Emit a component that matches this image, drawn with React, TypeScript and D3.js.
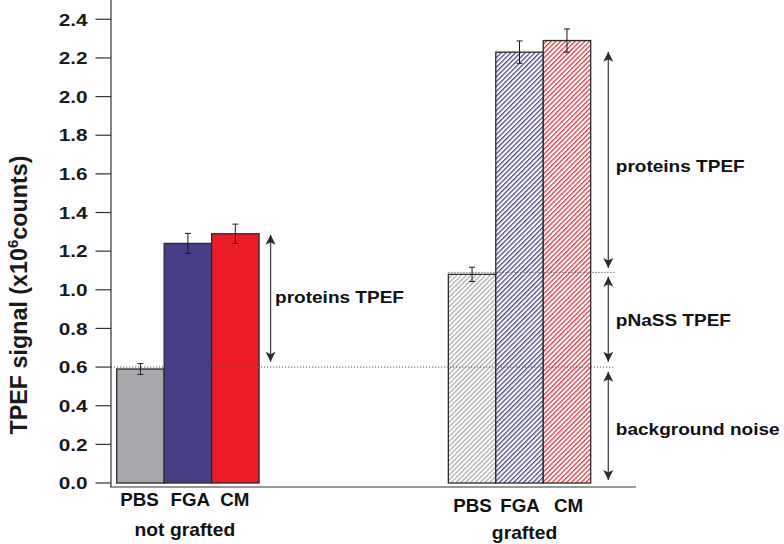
import React from "react";
import * as d3 from "d3";

const groups = ["not grafted", "grafted"];
const categories = ["PBS", "FGA", "CM"];
const notGraftedValues = [0.59, 1.24, 1.29];
const notGraftedErrors = [0.028, 0.052, 0.05];
const graftedValues = [1.08, 2.23, 2.29];
const graftedErrors = [0.037, 0.058, 0.06];
const yTicks = [0.0, 0.2, 0.4, 0.6, 0.8, 1.0, 1.2, 1.4, 1.6, 1.8, 2.0, 2.2, 2.4];
const refLevels = [0.6, 1.09];
// annotation arrows
const arrowLabels = ["proteins TPEF", "proteins TPEF", "pNaSS TPEF", "background noise"];
const arrowGroup = ["not grafted", "grafted", "grafted", "grafted"];
const arrowFrom = [1.285, 2.232, 1.068, 0.576];
const arrowTo = [0.628, 1.113, 0.628, 0.016];
const arrowLabelValue = [0.93, 1.61, 0.813, 0.249];

const W = 784;
const H = 544;
const FONT = "'Liberation Sans', Arial, Helvetica, sans-serif";
const solidColors = ["#a7a9ac", "#463f86", "#ec1c27"];
const hatchColors = ["#a9a9ab", "#474287", "#e2323b"];
const SX = 1.06;

export default function App() {
  const y = d3.scaleLinear().domain([0, 2.4]).range([483, 19.3]);
  const xg = d3
    .scaleBand<string>()
    .domain(groups)
    .range([116.7, 590.7])
    .paddingInner(0.5707)
    .paddingOuter(0);
  const xc = d3.scaleBand<string>().domain(categories).range([0, xg.bandwidth()]).padding(0);
  const bw = xc.bandwidth();

  const data = groups
    .map((g, gi) =>
      categories.map((c, ci) => ({
        g,
        gi,
        c,
        ci,
        v: gi === 0 ? notGraftedValues[ci] : graftedValues[ci],
        e: gi === 0 ? notGraftedErrors[ci] : graftedErrors[ci],
      }))
    )
    .flat();

  const axisX = 111;
  const axisY = 487;
  const arrowOffset = [11.5, 17.6, 17.6, 17.6];
  const labelOffset = [4.5, 7.5, 7.5, 7.5];
  const catBaseline = [506, 511.5];
  const groupBaseline = [535.5, 539];
  const groupDx = [-3, 5];
  const catDx = [[-1, 2.5, -0.5], [0.5, 0.5, 1.5]];

  return (
    <svg
      width={W}
      height={H}
      style={{ position: "absolute", left: 0, top: 0, background: "#fff" }}
      fontFamily={FONT}
    >
      <defs>
        {categories.map((c, i) => (
          <pattern
            key={c}
            id={`hatch-${i}`}
            patternUnits="userSpaceOnUse"
            width={3.4}
            height={3.4}
            patternTransform="rotate(45)"
          >
            <rect width={3.4} height={3.4} fill="#fff" />
            <line x1={0} y1={0} x2={0} y2={3.4} stroke={hatchColors[i]} strokeWidth={2.5} />
          </pattern>
        ))}
        <marker
          id="ahead"
          viewBox="0 0 10 12"
          refX={10}
          refY={6}
          markerWidth={10}
          markerHeight={12}
          markerUnits="userSpaceOnUse"
          orient="auto-start-reverse"
        >
          <path d="M0,1 L10,6 L0,11 L2.5,6 Z" fill="#2b2b2b" />
        </marker>
      </defs>

      {/* bars */}
      {data.map((d) => {
        const x = (xg(d.g) as number) + (xc(d.c) as number);
        return (
          <rect
            key={d.g + d.c}
            x={x}
            y={y(d.v)}
            width={bw}
            height={y(0) - y(d.v)}
            fill={d.gi === 0 ? solidColors[d.ci] : `url(#hatch-${d.ci})`}
            stroke="#2a2a2a"
            strokeWidth={1.3}
          />
        );
      })}

      {/* error bars */}
      {data.map((d) => {
        const cx = (xg(d.g) as number) + (xc(d.c) as number) + bw / 2;
        const y1 = y(d.v + d.e);
        const y2 = y(d.v - d.e);
        return (
          <g key={"e" + d.g + d.c} stroke="#1a1a1a" strokeWidth={1}>
            <line x1={cx} x2={cx} y1={y1} y2={y2} />
            <line x1={cx - 3} x2={cx + 3} y1={y1} y2={y1} />
            <line x1={cx - 3} x2={cx + 3} y1={y2} y2={y2} />
          </g>
        );
      })}

      {/* reference dotted lines */}
      <line
        x1={axisX}
        x2={615}
        y1={y(refLevels[0])}
        y2={y(refLevels[0])}
        stroke="#555"
        strokeWidth={1}
        strokeDasharray="1.2,1.8"
      />
      <line
        x1={xg("grafted") as number}
        x2={615}
        y1={y(refLevels[1])}
        y2={y(refLevels[1])}
        stroke="#555"
        strokeWidth={1}
        strokeDasharray="1.2,1.8"
      />

      {/* arrows and labels */}
      {arrowLabels.map((lab, i) => {
        const ax = (xg(arrowGroup[i]) as number) + xg.bandwidth() + arrowOffset[i];
        return (
          <g key={"a" + i}>
            <line
              x1={ax}
              x2={ax}
              y1={y(arrowFrom[i])}
              y2={y(arrowTo[i])}
              stroke="#444"
              strokeWidth={1.3}
              markerStart="url(#ahead)"
              markerEnd="url(#ahead)"
            />
            <text
              transform={`translate(${ax + labelOffset[i]},${y(arrowLabelValue[i])}) scale(1.1,1)`}
              fontSize={17.3}
              fontWeight="bold"
              fill="#111"
            >
              {lab}
            </text>
          </g>
        );
      })}

      {/* y axis */}
      <line x1={axisX} x2={axisX} y1={0} y2={axisY} stroke="#333" strokeWidth={1.2} />
      {yTicks.map((t) => (
        <g key={"t" + t}>
          <line x1={95.5} x2={axisX} y1={y(t)} y2={y(t)} stroke="#333" strokeWidth={1.2} />
          <text
            transform={`translate(87.5,${y(t) + 6.2}) scale(1.2,1)`}
            textAnchor="end"
            fontSize={17.3}
            fontWeight="bold"
            fill="#1a1a1a"
          >
            {d3.format(".1f")(t)}
          </text>
        </g>
      ))}
      {/* x axis */}
      <line x1={axisX - 1} x2={636} y1={axisY} y2={axisY} stroke="#333" strokeWidth={1.2} />

      {/* category labels */}
      {data.map((d) => (
        <text
          key={"c" + d.g + d.c}
          transform={`translate(${(xg(d.g) as number) + (xc(d.c) as number) + bw / 2 + catDx[d.gi][d.ci]},${catBaseline[d.gi]}) scale(${SX},1)`}
          textAnchor="middle"
          fontSize={17.7}
          fontWeight="bold"
          fill="#111"
        >
          {d.c}
        </text>
      ))}
      {groups.map((g, gi) => (
        <text
          key={"g" + g}
          transform={`translate(${(xg(g) as number) + xg.bandwidth() / 2 + groupDx[gi]},${groupBaseline[gi]}) scale(1.09,1)`}
          textAnchor="middle"
          fontSize={17.7}
          fontWeight="bold"
          fill="#111"
        >
          {g}
        </text>
      ))}

      {/* y label */}
      <text
        transform={`translate(27,295) rotate(-90)`}
        textAnchor="middle"
        fontSize={23.3}
        fontWeight="bold"
        fill="#1a1a1a"
      >
        TPEF signal (x10
        <tspan fontSize={15} dy={-9.5}>6</tspan>
        <tspan dy={9.5}>counts)</tspan>
      </text>
    </svg>
  );
}
